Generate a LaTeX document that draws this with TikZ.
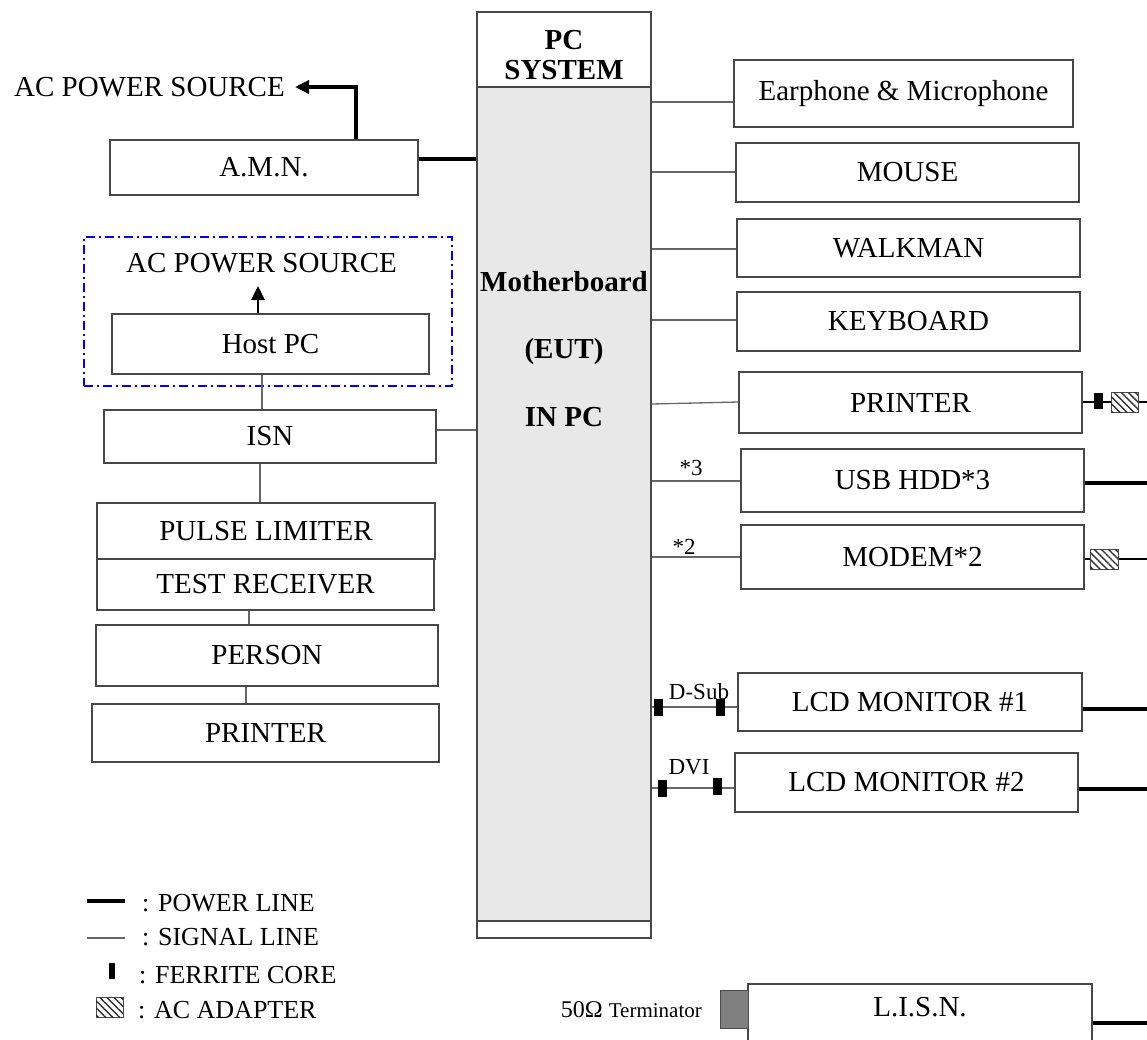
\documentclass[tikz,border=0pt]{standalone}
\usepackage{fontspec}
\setmainfont{Liberation Serif}
\usetikzlibrary{arrows.meta,patterns.meta}
% box given by its two corners: name, x1, y1, x2, y2, text
\newcommand\mkbox[6]{\node[box,minimum width={(#4)-(#2)},minimum height={(#5)-(#3)}] (#1) at ({((#2)+(#4))/2},{((#3)+(#5))/2}) {#6};}
\begin{document}
\begin{tikzpicture}[x=1pt,y=-1pt,
  font=\fontsize{29}{32}\selectfont,
  box/.style={draw=black!72,line width=1.4pt,fill=white,inner sep=0pt},
  txt/.style={inner sep=0pt},
  bold/.style={inner sep=0pt,font=\bfseries\fontsize{29}{31}\selectfont},
  sig/.style={draw=black!60,line width=1.3pt},
  pwr/.style={draw=black,line width=3.4pt},
  ferrite/.style={fill=black,draw=none,inner sep=0pt,minimum width=9pt,minimum height=17pt},
  adapter/.style={draw=black!70,line width=0.8pt,inner sep=0pt,minimum width=27pt,minimum height=20pt,fill=white,
     postaction={pattern color=black!80,pattern={Lines[angle=-45,distance=5pt,line width=1.4pt]}}},
  small/.style={font=\fontsize{23}{25}\selectfont,inner sep=0pt},
  legend/.style={font=\fontsize{26}{28}\selectfont,inner sep=0pt,anchor=west},
  tip/.style={-{Triangle[length=14pt,width=13pt]}},
]
\useasboundingbox (0,0) rectangle (1147,1039);
\clip (0,0) rectangle (1147,1039);

% ---------- PC system with the motherboard ----------
\node[box,minimum width=174,minimum height=75] (pcsys) at (564,49.5) {};
\node[bold,align=center,font=\bfseries\fontsize{29}{30}\selectfont] (pctxt) at (564,55) {PC\\SYSTEM};
\node[box,fill=black!9,minimum width=174,minimum height=834] (mb) at (564,504) {};
\node[box,minimum width=174,minimum height=17] (mbfoot) at (564,929.5) {};
\node[bold] (mbt1) at (564,282) {Motherboard};
\node[bold] (mbt2) at (564,352) {(EUT)};
\node[bold] (mbt3) at (564,417) {IN PC};

% ---------- left side ----------
\node[txt,anchor=east] (acps1) at (285,87) {AC POWER SOURCE};
\mkbox{amn}{110}{140}{418}{195}{A.M.N.}
\node[draw=blue,line width=1.6pt,dash pattern=on 9pt off 4pt on 2pt off 4pt,minimum width=368,minimum height=149,inner sep=0pt] (hostframe) at (268,311.5) {};
\node[txt] (acps2) at (261.5,263) {AC POWER SOURCE};
\mkbox{host}{112}{314}{429}{374}{Host PC}
\mkbox{isn}{104}{410}{436}{463}{ISN}
\mkbox{pl}{97}{503}{435}{559}{PULSE LIMITER}
\mkbox{tr}{97}{559}{434}{610}{TEST RECEIVER}
\mkbox{person}{96}{625}{438}{686}{PERSON}
\mkbox{lprn}{92}{704}{439}{762}{PRINTER}

\coordinate (hostup) at (258,286);
\draw[pwr,tip] (356,0 |- amn.north) -- (356,87) -- ([xshift=10pt]acps1.east);
\draw[pwr,line width=2.8pt,tip] (host.north -| hostup) -- (hostup);
\draw[pwr] (amn.east |- 0,159) -- (mb.west |- 0,159);
\draw[sig] (host.south -| 262,0) -- (isn.north -| 262,0);
\draw[sig] (isn.east |- 0,430) -- (mb.west |- 0,430);
\draw[sig] (isn.south -| 260,0) -- (pl.north -| 260,0);
\draw[sig] (tr.south -| 249,0) -- (person.north -| 249,0);
\draw[sig] (person.south -| 246,0) -- (lprn.north -| 246,0);

% ---------- right side ----------
\mkbox{eph}{734}{60}{1073}{127}{Earphone \& Microphone}
\mkbox{mouse}{736}{143}{1079}{202}{MOUSE}
\mkbox{walk}{737}{219}{1080}{277}{WALKMAN}
\mkbox{kbd}{737}{292}{1080}{351}{KEYBOARD}
\mkbox{prn}{739}{372}{1082}{433}{PRINTER}
\mkbox{usb}{741}{449}{1084}{512}{USB HDD*3}
\mkbox{modem}{741}{525}{1084}{589}{MODEM*2}
\mkbox{lcda}{738}{673}{1082}{731}{LCD MONITOR \#1}
\mkbox{lcdb}{735}{753}{1078}{812}{LCD MONITOR \#2}

\draw[sig] (mb.east |- 0,102) -- (eph.west |- 0,102);
\draw[sig] (mb.east |- 0,172) -- (mouse.west |- 0,172);
\draw[sig] (mb.east |- 0,249) -- (walk.west |- 0,249);
\draw[sig] (mb.east |- 0,320) -- (kbd.west |- 0,320);
\draw[sig] (mb.east |- 0,404) -- (prn.west |- 0,402);
\draw[sig] (mb.east |- 0,481) -- (usb.west |- 0,481);
\draw[sig] (mb.east |- 0,557) -- (modem.west |- 0,557);
\draw[sig] (mb.east |- 0,707) -- (lcda.west |- 0,707);
\draw[sig] (mb.east |- 0,788) -- (lcdb.west |- 0,788);

\node[small] (l3) at (691,468) {*3};
\node[small] (l2) at (684,547) {*2};
\node[small] (ldsub) at (699,692) {D-Sub};
\node[small] (ldvi) at (689,767) {DVI};

\node[ferrite] (fd1) at (658,707.5) {};
\node[ferrite] (fd2) at (720.5,707.5) {};
\node[ferrite] (fv1) at (662,788.5) {};
\node[ferrite] (fv2) at (717.5,786.5) {};

% power cords leaving at the right edge
\coordinate (ep) at (1150,402);
\coordinate (eu) at (1150,483);
\coordinate (em) at (1150,559);
\coordinate (ea) at (1150,709);
\coordinate (eb) at (1150,789);
\coordinate (el) at (1150,1023);
\draw[pwr,line width=2.8pt] (prn.east |- ep) -- (ep);
\draw[pwr] (usb.east |- eu) -- (eu);
\draw[pwr,line width=2.8pt] (modem.east |- em) -- (em);
\draw[pwr] (lcda.east |- ea) -- (ea);
\draw[pwr] (lcdb.east |- eb) -- (eb);
\node[ferrite,minimum width=9pt,minimum height=16pt] (fp) at (1098.5,401) {};
\node[adapter] (ap) at (1124.5,402) {};
\node[adapter,minimum width=28pt] (am) at (1104,559) {};

% ---------- L.I.S.N. ----------
\mkbox{lisn}{748}{984}{1092}{1050}{}
\node[txt] (lisntxt) at (920,1007) {L.I.S.N.};
\draw[pwr] (lisn.east |- el) -- (el);
\node[draw=black!70,fill=black!50,line width=1pt,minimum width=28,minimum height=38,inner sep=0pt] (term) at (734,1009) {};
\node[txt,anchor=east] (termtxt) at (702,1010) {\fontsize{24}{26}\selectfont 50Ω \fontsize{21}{24}\selectfont Terminator};

% ---------- legend ----------
\coordinate (g1a) at (87,901);  \coordinate (g1b) at (125,901);
\coordinate (g2a) at (87,938);  \coordinate (g2b) at (125,938);
\draw[pwr] (g1a) -- (g1b);
\draw[sig] (g2a) -- (g2b);
\node[ferrite,minimum width=6pt,minimum height=16pt] (gf) at (112,971) {};
\node[adapter,minimum width=27pt,minimum height=20pt] (ga) at (109.5,1007) {};
\node[legend] (lgt1) at (142,903) {: POWER LINE};
\node[legend] (lgt2) at (142,937) {: SIGNAL LINE};
\node[legend] (lgt3) at (139,975) {: FERRITE CORE};
\node[legend] (lgt4) at (138,1010) {: AC ADAPTER};
\end{tikzpicture}
\end{document}
